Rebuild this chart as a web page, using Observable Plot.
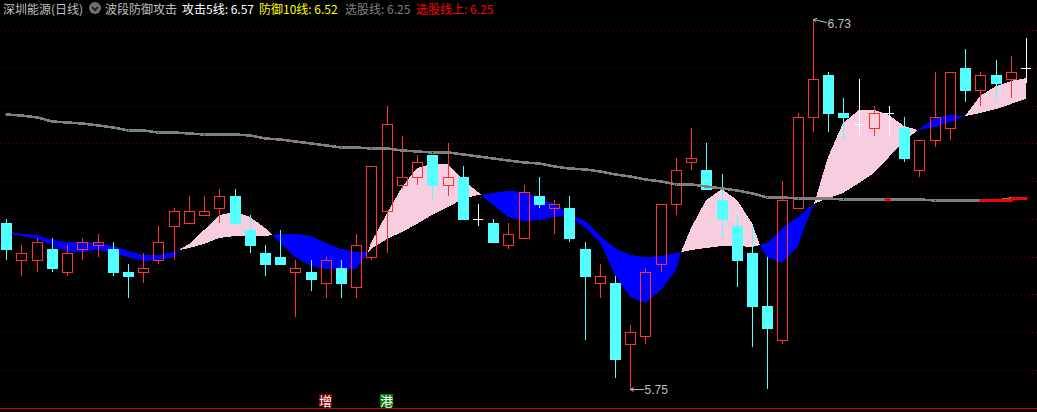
<!DOCTYPE html>
<html><head><meta charset="utf-8">
<style>
html,body{margin:0;padding:0;background:#000;overflow:hidden}
#wrap{position:relative;width:1037px;height:412px;overflow:hidden}
#head span{position:absolute;top:2px;font:12px/14px "Noto Sans CJK SC","Noto Sans",sans-serif;white-space:nowrap}
#badge{position:absolute;left:89px;top:2px;width:12px;height:12px}
</style>
<script src="https://cdn.jsdelivr.net/npm/d3@7"></script>
<script src="https://cdn.jsdelivr.net/npm/@observablehq/plot@0.6"></script>
</head><body><div id="wrap"><div id="head"></div></div>
<script>
// candle values (prices)
const kinds = "c r r c r r r c c r r r r r r c c c c r c r c r r r r r c r c w c r r c r c c r c r r r r r c c c c c r r r c c w r w c r r r c r c r w".split(" ");
const bodyTop = [6.19,6.11,6.14,6.12,6.11,6.14,6.14,6.12,6.06,6.07,6.14,6.22,6.22,6.22,6.26,6.26,6.17,6.11,6.10,6.07,6.06,6.09,6.07,6.13,6.34,6.45,6.31,6.35,6.37,6.31,6.31,6.20,6.19,6.16,6.27,6.26,6.24,6.23,6.12,6.05,6.03,5.90,6.06,6.24,6.33,6.36,6.33,6.25,6.18,6.11,5.97,6.25,6.47,6.57,6.58,6.48,6.45,6.48,6.48,6.44,6.41,6.47,6.59,6.60,6.58,6.58,6.59,6.60];
const bodyBottom = [6.12,6.09,6.09,6.07,6.06,6.12,6.13,6.06,6.05,6.06,6.09,6.18,6.19,6.21,6.23,6.19,6.13,6.08,6.08,6.06,6.04,6.03,6.03,6.02,6.10,6.22,6.29,6.31,6.29,6.29,6.20,6.20,6.14,6.13,6.15,6.24,6.23,6.15,6.05,6.03,5.83,5.87,5.89,6.08,6.24,6.35,6.28,6.20,6.09,5.97,5.91,5.88,6.23,6.47,6.48,6.47,6.45,6.44,6.48,6.36,6.33,6.41,6.44,6.54,6.54,6.56,6.57,6.60];
const highs = [6.20,6.13,6.15,6.15,6.13,6.15,6.16,6.14,6.08,6.11,6.18,6.23,6.26,6.26,6.28,6.28,6.21,6.13,6.17,6.09,6.09,6.10,6.09,6.16,6.34,6.50,6.42,6.37,6.37,6.40,6.34,6.24,6.20,6.19,6.29,6.31,6.25,6.26,6.14,6.08,6.05,5.92,6.07,6.24,6.36,6.44,6.40,6.32,6.21,6.18,6.10,6.30,6.48,6.73,6.59,6.52,6.57,6.50,6.50,6.47,6.41,6.59,6.59,6.65,6.59,6.62,6.63,6.68];
const lows = [6.09,6.05,6.06,6.06,6.05,6.09,6.10,6.05,5.99,6.03,6.08,6.09,6.19,6.21,6.19,6.18,6.11,6.05,6.08,5.94,6.01,5.99,5.99,5.99,6.09,6.11,6.28,6.29,6.25,6.26,6.20,6.18,6.14,6.12,6.15,6.23,6.16,6.14,5.88,5.99,5.78,5.75,5.87,6.06,6.21,6.33,6.28,6.15,6.02,5.86,5.75,5.87,6.23,6.43,6.43,6.41,6.42,6.42,6.42,6.35,6.31,6.39,6.41,6.51,6.50,6.51,6.52,6.56];
// defence/attack ribbon: [candle index, upper edge, lower edge]
const blueRuns = [
 [[0.36,6.166,6.159],[1,6.161,6.154],[2,6.157,6.146],[3,6.144,6.132],[4,6.140,6.113],[5,6.140,6.113],[6,6.137,6.118],[7,6.129,6.111],[8,6.116,6.098],[9,6.105,6.089],[10,6.105,6.091],[11,6.113,6.100],[11.36,6.118,6.118]],
 [[17.49,6.158,6.158],[18,6.160,6.135],[19,6.160,6.100],[20,6.155,6.075],[21,6.137,6.067],[22,6.120,6.065],[23,6.113,6.068],[23.77,6.113,6.113]],
 [[31.22,6.263,6.263],[32,6.268,6.237],[33,6.274,6.206],[34,6.270,6.194],[35,6.254,6.197],[36,6.240,6.206],[37,6.213,6.209],[38,6.195,6.175],[39,6.155,6.140],[40,6.122,6.052],[41,6.105,5.994],[42,6.098,5.977],[43,6.102,6.012],[44,6.109,6.065],[44.36,6.113,6.113]],
 [[49.51,6.131,6.131],[50,6.135,6.100],[51,6.175,6.082],[52,6.206,6.128],[52.5,6.222,6.180],[53.08,6.240,6.240]],
 [[59.93,6.435,6.435],[60,6.437,6.434],[61,6.466,6.442],[62,6.475,6.457],[62.98,6.472,6.472]]
];
const pinkRuns = [
 [[11.36,6.118,6.118],[12,6.134,6.122],[13,6.171,6.133],[14,6.210,6.150],[15,6.217,6.155],[16,6.204,6.155],[17,6.175,6.155],[17.49,6.158,6.158]],
 [[23.77,6.113,6.113],[24,6.135,6.119],[25,6.215,6.146],[26,6.284,6.164],[27,6.334,6.187],[28,6.345,6.210],[29,6.345,6.232],[30,6.303,6.252],[31,6.272,6.262],[31.22,6.263,6.263]],
 [[44.36,6.113,6.113],[45,6.175,6.118],[46,6.250,6.122],[47,6.279,6.127],[48,6.250,6.128],[49,6.188,6.125],[49.51,6.131,6.131]],
 [[53.08,6.240,6.240],[54,6.365,6.255],[55,6.453,6.268],[56,6.488,6.294],[57,6.488,6.321],[58,6.475,6.365],[59,6.447,6.406],[59.93,6.435,6.435]],
 [[62.98,6.472,6.472],[64,6.525,6.480],[65,6.552,6.490],[66,6.566,6.503],[67,6.572,6.517]]
];
// long selection line
const slowLine = [6.478,6.474,6.470,6.460,6.456,6.454,6.448,6.442,6.436,6.434,6.430,6.430,6.427,6.426,6.425,6.425,6.422,6.415,6.411,6.405,6.401,6.396,6.389,6.389,6.388,6.387,6.382,6.381,6.377,6.376,6.371,6.366,6.360,6.357,6.350,6.347,6.341,6.335,6.331,6.326,6.319,6.313,6.306,6.300,6.293,6.292,6.287,6.281,6.276,6.268,6.258,6.258,6.255,6.255,6.255,6.253,6.253,6.253,6.253,6.253,6.253,6.250,6.250,6.250,6.250,6.250,6.254,6.254];
const slowRedRuns = [[[57.75,6.253],[58,6.253]],[[64,6.250],[65,6.250],[66,6.250],[66,6.254],[67,6.254]]];
const gridPrices = [5.8,5.9,6.0,6.1,6.2,6.3,6.4,6.5,6.6,6.7];
const bottomPrice = 5.70;
const tags = [{i:21,text:"增",fill:"#800000"},{i:25,text:"港",fill:"#008000"}];
const extremes = [{i:41,price:5.75,text:"5.75",tailPrice:5.75,labelPrice:5.747},{i:53,price:6.73,text:"6.73",tailPrice:6.722,labelPrice:6.715}];
const headerItems = [
 ["深圳能源(日线)",3,"#c0c0c0"],["波段防御攻击",105,"#c0c0c0"],["攻击5线: 6.57",182,"#ffffff"],
 ["防御10线: 6.52",259,"#ffff00"],["选股线: 6.25",345,"#808080"],["选股线上: 6.25",416,"#ff0000"]
];

const RED="#ff3232", CYAN="#54ffff", PINK="#f9cde0", BLUE="#0000ff", GRAY="#808080", W="#ffffff";
const candles = kinds.map((k,i)=>({i,k,top:bodyTop[i],bottom:bodyBottom[i],high:highs[i],low:lows[i]}));
const hw = 5/15.22;
const crisp = {shapeRendering:"crispEdges"};
const flat = (runs)=>runs.flatMap((r,z)=>r.map(([i,u,l])=>({i,u,l,z})));
const reds = candles.filter(d=>d.k==="r"), cy = candles.filter(d=>d.k==="c"), wh = candles.filter(d=>d.k==="w");
const slow = slowLine.map((v,i)=>({i,v}));
const slowRed = slowRedRuns.flatMap((r,z)=>r.map(([i,v])=>({i,v,z})));

const chart = Plot.plot({
  width:1037,height:412,marginTop:0,marginRight:0,marginBottom:0,marginLeft:0,
  style:{background:"#000",display:"block"},
  x:{domain:[0,67],range:[6.2,6.2+15.22*67],round:true,axis:null},
  y:{domain:[5.8,6.7],range:[370,30],round:true,axis:null},
  marks:[
    Plot.ruleY(gridPrices,{stroke:"#800000",strokeDasharray:"1 3",strokeWidth:1,...crisp}),
    Plot.ruleY([bottomPrice],{stroke:"#c80000",strokeWidth:1,...crisp}),
    Plot.areaY(flat(pinkRuns),{x:"i",y1:"l",y2:"u",z:"z",fill:PINK,...crisp}),
    Plot.areaY(flat(blueRuns),{x:"i",y1:"l",y2:"u",z:"z",fill:BLUE,...crisp}),
    Plot.ruleX(cy,{x:"i",y1:"high",y2:"low",stroke:CYAN,...crisp}),
    Plot.rect(cy,{x1:d=>d.i-hw,x2:d=>d.i+hw,y1:"top",y2:"bottom",fill:CYAN,stroke:CYAN,...crisp}),
    Plot.ruleX(reds,{x:"i",y1:"high",y2:"top",stroke:RED,...crisp}),
    Plot.ruleX(reds,{x:"i",y1:"bottom",y2:"low",stroke:RED,...crisp}),
    Plot.rect(reds,{x1:d=>d.i-hw,x2:d=>d.i+hw,y1:"top",y2:"bottom",fill:"none",stroke:RED,...crisp}),
    Plot.ruleX(wh,{x:"i",y1:"high",y2:"low",stroke:W,...crisp}),
    Plot.ruleY(wh,{x1:d=>d.i-hw,x2:d=>d.i+hw,y:"top",stroke:W,...crisp}),
    Plot.line(slow,{x:"i",y:"v",stroke:GRAY,strokeWidth:2.6,...crisp}),
    Plot.line(slowRed,{x:"i",y:"v",z:"z",stroke:"#ff0000",strokeWidth:2.6,...crisp}),
    Plot.arrow(extremes,{x1:d=>d.i+0.85,y1:"tailPrice",x2:"i",y2:"price",stroke:"#c0c0c0",strokeWidth:1,headLength:5,bend:false}),
    Plot.text(extremes,{x:"i",y:"labelPrice",text:"text",dx:14,textAnchor:"start",fill:"#c0c0c0",fontSize:12,fontFamily:"Liberation Sans"}),
    Plot.ruleX(tags,{x:"i",y1:5.702,y2:5.736,stroke:"fill",strokeWidth:13,dx:-1,...crisp}),
    Plot.text(tags,{x:"i",y:5.719,text:"text",fill:W,fontSize:13,dx:-1,fontFamily:"Noto Sans CJK SC"})
  ]
});
const wrap = document.getElementById("wrap");
wrap.prepend(chart);
const head = document.getElementById("head");
for (const [t,x,c] of headerItems){
  const s=document.createElement("span");s.textContent=t;s.style.left=x+"px";s.style.color=c;head.appendChild(s);
}
head.insertAdjacentHTML("beforeend",'<svg id="badge" viewBox="0 0 12 12"><circle cx="6" cy="6" r="6" fill="#6e6e6e"/><path d="M3 5 L6 8 L9 5" fill="none" stroke="#111" stroke-width="1.6"/></svg>');
</script></body></html>
